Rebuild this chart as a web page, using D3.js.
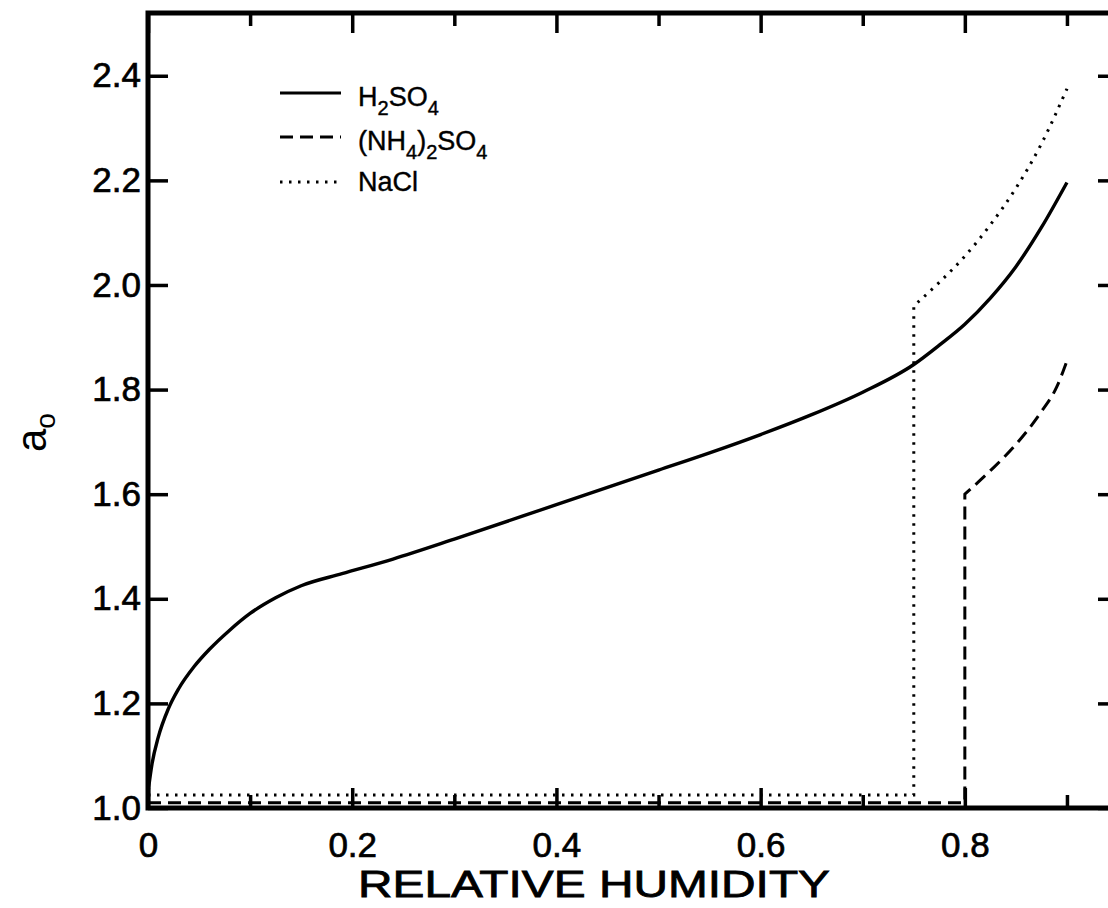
<!DOCTYPE html>
<html>
<head>
<meta charset="utf-8">
<script src="https://cdn.jsdelivr.net/npm/d3@7"></script>
<style>
  body { margin: 0; background: #fff; }
  svg { display: block; }
  text { font-family: "Liberation Sans", Arial, Helvetica, sans-serif; fill: #000; }
</style>
</head>
<body>
<svg id="chart"></svg>
<script>
// ---- data ----
var h2so4RH = [0, 0.004, 0.01, 0.02, 0.03, 0.045, 0.06, 0.08, 0.1, 0.125, 0.15, 0.19, 0.24, 0.3, 0.4, 0.5, 0.55, 0.6, 0.65, 0.7, 0.75, 0.775, 0.8, 0.825, 0.85, 0.875, 0.9];
var h2so4A  = [1.03, 1.085, 1.135, 1.19, 1.228, 1.27, 1.303, 1.34, 1.372, 1.402, 1.425, 1.448, 1.476, 1.514, 1.58, 1.646, 1.679, 1.714, 1.752, 1.795, 1.848, 1.885, 1.925, 1.975, 2.035, 2.11, 2.196];

var nh4RH = [0, 0.8, 0.8, 0.825, 0.85, 0.875, 0.89, 0.9];
var nh4A  = [1.01, 1.01, 1.6, 1.645, 1.695, 1.758, 1.805, 1.855];

var naclRH = [0, 0.75, 0.75, 0.775, 0.8, 0.825, 0.85, 0.875, 0.9];
var naclA  = [1.025, 1.025, 1.96, 2.005, 2.055, 2.115, 2.185, 2.27, 2.375];

var xMajor = [0, 0.2, 0.4, 0.6, 0.8];
var xMinor = [0.1, 0.3, 0.5, 0.7, 0.9];
var yTicks = [1.0, 1.2, 1.4, 1.6, 1.8, 2.0, 2.2, 2.4];

var legendNames = ["H_2SO_4", "(NH_4)_2SO_4", "NaCl"];
var legendDash  = [null, "13,7", "2.5,6.5"];

// ---- layout ----
var W = 1108, H = 908;
var svg = d3.select("#chart").attr("width", W).attr("height", H);

var x = d3.scaleLinear().domain([0, 0.95]).range([148, 1118]);
var y = d3.scaleLinear().domain([1, 2.52]).range([808, 13]);

var fmt = function(d){ return d === 0 ? "0" : d3.format(".1f")(d); };

// axes (ticks point inward)
var gx = svg.append("g").attr("transform", "translate(0," + y(1) + ")")
  .call(d3.axisBottom(x).tickValues(xMajor).tickSizeInner(-20).tickSizeOuter(0).tickPadding(24).tickFormat(fmt));
svg.append("g").attr("transform", "translate(0," + y(1) + ")")
  .call(d3.axisBottom(x).tickValues(xMinor).tickSizeInner(-13).tickSizeOuter(0).tickFormat(""));
svg.append("g").attr("transform", "translate(0," + y(2.52) + ")")
  .call(d3.axisTop(x).tickValues(xMajor).tickSizeInner(-20).tickSizeOuter(0).tickFormat(""));
svg.append("g").attr("transform", "translate(0," + y(2.52) + ")")
  .call(d3.axisTop(x).tickValues(xMinor).tickSizeInner(-13).tickSizeOuter(0).tickFormat(""));
var gy = svg.append("g").attr("transform", "translate(" + x(0) + ",0)")
  .call(d3.axisLeft(y).tickValues(yTicks).tickSizeInner(-20).tickSizeOuter(0).tickPadding(7).tickFormat(d3.format(".1f")));
svg.append("g").attr("transform", "translate(" + x(0.95) + ",0)")
  .call(d3.axisRight(y).tickValues(yTicks).tickSizeInner(-20).tickSizeOuter(0).tickFormat(""));

svg.selectAll(".domain").remove();
svg.selectAll(".tick line").attr("stroke", "#000").attr("stroke-width", 3.5);
svg.selectAll(".tick text").style("font-family", "'Liberation Sans', Arial, sans-serif")
  .style("font-size", "35px").attr("fill", "#000")
  .attr("stroke", "#000").attr("stroke-width", 0.7);
gx.selectAll(".tick text").attr("dy", "0.71em");

// frame
svg.append("rect")
  .attr("x", x(0)).attr("y", y(2.52))
  .attr("width", x(0.95) - x(0)).attr("height", y(1) - y(2.52))
  .attr("fill", "none").attr("stroke", "#000").attr("stroke-width", 5);

// curves
var line = d3.line().x(function(d){ return x(d[0]); }).y(function(d){ return y(d[1]); });
var smooth = d3.line().x(function(d){ return x(d[0]); }).y(function(d){ return y(d[1]); }).curve(d3.curveMonotoneX);

svg.append("path").datum(d3.zip(h2so4RH, h2so4A))
  .attr("d", smooth).attr("fill", "none").attr("stroke", "#000").attr("stroke-width", 3.4);

function stepCurve(rh, a){
  // flat part + vertical jump + smooth rise
  var pts = d3.zip(rh, a);
  return line(pts.slice(0, 2)) + smooth(pts.slice(2)).replace(/^M/, "L");
}
svg.append("path").attr("d", stepCurve(nh4RH, nh4A))
  .attr("fill", "none").attr("stroke", "#000").attr("stroke-width", 3).attr("stroke-dasharray", legendDash[1]);
svg.append("path").attr("d", stepCurve(naclRH, naclA))
  .attr("fill", "none").attr("stroke", "#000").attr("stroke-width", 3).attr("stroke-dasharray", legendDash[2]);

// formula text with subscripts
function formula(sel, s){
  var parts = s.split(/(_\d)/).filter(function(p){ return p.length; });
  var shift = 0;
  parts.forEach(function(p){
    var sub = p[0] === "_";
    var dy = (sub ? 9 : 0) - shift;
    shift = sub ? 9 : 0;
    var ts = sel.append("tspan").text(sub ? p.slice(1) : p).attr("dy", dy);
    if (sub) ts.style("font-size", "20px");
  });
}

// legend
var legY = [93, 137, 182];
var legTextY = [106, 150, 191];
legendNames.forEach(function(name, i){
  svg.append("line").attr("x1", 280).attr("x2", 341).attr("y1", legY[i]).attr("y2", legY[i])
    .attr("stroke", "#000").attr("stroke-width", 3)
    .attr("stroke-dasharray", legendDash[i]);
  var t = svg.append("text").attr("x", 358).attr("y", legTextY[i]).style("font-size", "27px")
    .attr("stroke", "#000").attr("stroke-width", 0.4);
  formula(t, name);
});

// axis titles
svg.append("text").attr("x", 594).attr("y", 897).attr("text-anchor", "middle")
  .attr("textLength", 472).attr("lengthAdjust", "spacingAndGlyphs")
  .attr("stroke", "#000").attr("stroke-width", 0.8)
  .style("font-size", "37px").text("RELATIVE HUMIDITY");

var yl = svg.append("text").attr("transform", "translate(46,452) rotate(-90)")
  .style("font-size", "42px");
yl.append("tspan").text("a");
yl.append("tspan").text("o").attr("dy", 9).style("font-size", "28px");
</script>
</body>
</html>
